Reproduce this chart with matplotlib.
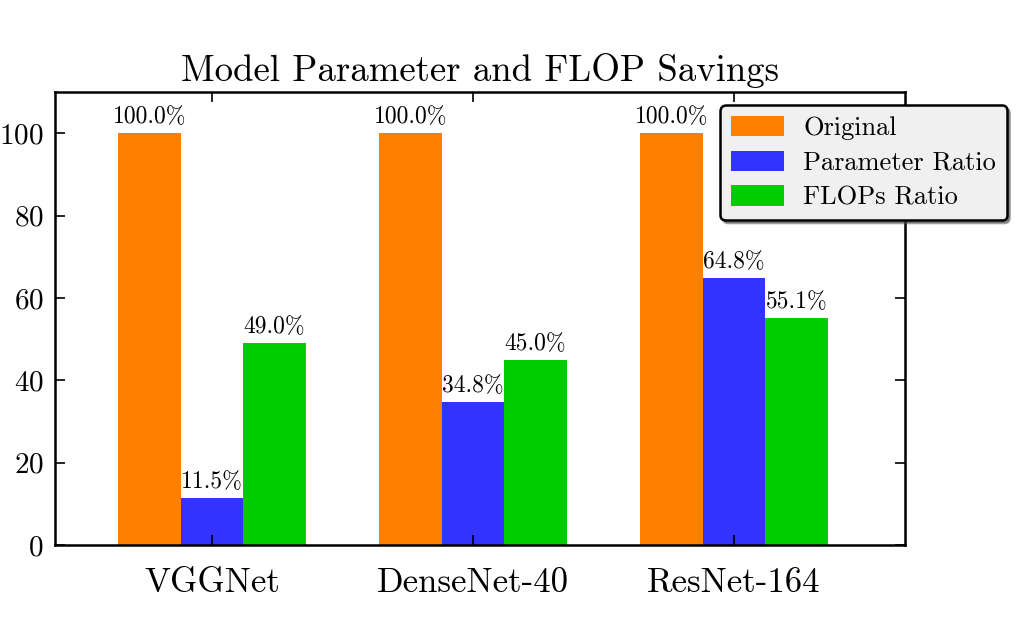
import numpy as np
import matplotlib
matplotlib.use('Agg')
import matplotlib.pyplot as plt

plt.rcParams['font.family'] = 'cmr10'
plt.rcParams['axes.formatter.use_mathtext'] = True
plt.rcParams['axes.unicode_minus'] = False

models = ['VGGNet', 'DenseNet-40', 'ResNet-164']
original = [100.0, 100.0, 100.0]
param_ratio = [11.5, 34.8, 64.8]
flops_ratio = [49.0, 45.0, 55.1]

fig = plt.figure(figsize=(10.26, 6.38), dpi=100)
ax = fig.add_axes([0.0536, 0.1458, 0.8285, 0.71])

ind = np.arange(len(models))
w = 0.24
b1 = ax.bar(ind, original, w, align='edge', color='#FF7F00', label='Original')
b2 = ax.bar(ind + w, param_ratio, w, align='edge', color='#3333FF', label='Parameter Ratio')
b3 = ax.bar(ind + 2 * w, flops_ratio, w, align='edge', color='#00CC00', label='FLOPs Ratio')

for bars in (b1, b2, b3):
    for r in bars:
        h = r.get_height()
        ax.text(r.get_x() + r.get_width() / 2, h + 1.2, '%.1f%%' % h,
                ha='center', va='bottom', fontsize=17)

ax.set_xlim(-0.241, 3.015)
ax.set_ylim(0, 110)
ax.set_xticks(ind + 1.5 * w)
ax.set_xticklabels(models, fontsize=25)
ax.set_yticks([0, 20, 40, 60, 80, 100])
ax.tick_params(axis='y', labelsize=21, pad=8)
ax.tick_params(direction='in', top=True, right=True, length=7, width=1.2)
ax.tick_params(axis='x', pad=16)
for s in ax.spines.values():
    s.set_linewidth(1.8)

ax.set_title('Model Parameter and FLOP Savings', fontsize=26.5, pad=8)

leg = ax.legend(loc='upper left', bbox_to_anchor=(0.702, 0.835), bbox_transform=fig.transFigure,
                borderaxespad=0, fontsize=19, shadow=True, fancybox=True, framealpha=1,
                handlelength=2.0, handleheight=0.8, handletextpad=0.75,
                labelspacing=0.4, borderpad=0.4)
leg.get_frame().set_facecolor('#F0F0F0')
leg.get_frame().set_edgecolor('black')
leg.get_frame().set_linewidth(1.8)

fig.savefig('out.png', dpi=100)
